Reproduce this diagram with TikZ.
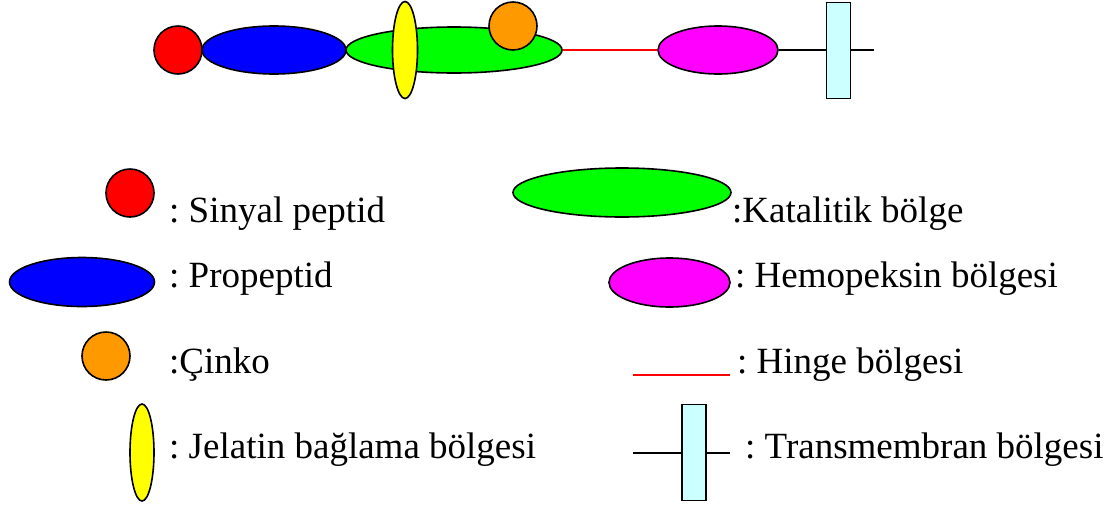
\documentclass[tikz,border=0pt]{standalone}
\usepackage{fontspec}
\setmainfont{Liberation Serif}
\usetikzlibrary{shapes.geometric}
\definecolor{cred}{HTML}{FF0000}
\definecolor{cblue}{HTML}{0000FF}
\definecolor{cgreen}{HTML}{00FF00}
\definecolor{cyel}{HTML}{FFFF00}
\definecolor{corange}{HTML}{FF9900}
\definecolor{cmag}{HTML}{FF00FF}
\definecolor{ccyan}{HTML}{CCFFFF}
\tikzset{
  blob/.style={ellipse, draw=black, line width=1.6pt, inner sep=0pt, minimum width=#1},
  tmbox/.style={rectangle, draw=black, line width=1.6pt, fill=ccyan, inner sep=0pt, minimum width=24pt, minimum height=96pt},
  hinge/.style={draw=cred, line width=1.6pt},
  tail/.style={draw=black, line width=1.6pt},
  lbl/.style={anchor=base west, inner sep=0pt, font=\fontsize{37}{42}\selectfont\frenchspacing}
}
\begin{document}
\begin{tikzpicture}[x=1pt,y=-1pt]
\useasboundingbox[fill=white] (0,0) rectangle (1113,507);
% top row
\node[blob=48pt, minimum height=48pt, fill=cred] (sp) at (178,50) {};
\node[blob=144pt, minimum height=48pt, fill=cblue] (pro) at (274,50) {};
\node[blob=216pt, minimum height=46pt, fill=cgreen] (cat) at (454,50) {};
\node[blob=25pt, minimum height=97pt, fill=cyel] (jel) at (405,50) {};
\node[blob=48pt, minimum height=48pt, fill=corange] (zn) at (513,26) {};
\node[blob=120pt, minimum height=48pt, fill=cmag] (hem) at (718,50) {};
\coordinate (tend) at (874,50);
\draw[hinge] (cat.east) -- (hem.west);
\draw[tail] (hem.east) -- (tend);
\node[tmbox] (tm) at (838.5,50.5) {};
% legend
\node[blob=48pt, minimum height=48pt, fill=cred] (lsp) at (130,193) {};
\node[lbl] (tsp) at (169,222) {: Sinyal peptid};
\node[blob=145pt, minimum height=49pt, fill=cblue] (lpro) at (82,282) {};
\node[lbl] (tpro) at (169,287) {: Propeptid};
\node[blob=48pt, minimum height=48pt, fill=corange] (lzn) at (106,356) {};
\node[lbl] (tzn) at (169,373) {:Çinko};
\node[blob=24pt, minimum height=97pt, fill=cyel] (ljel) at (142,452.5) {};
\node[lbl] (tjel) at (169,458) {: Jelatin bağlama bölgesi};
\node[blob=218pt, minimum height=49pt, fill=cgreen] (lcat) at (622,192.5) {};
\node[lbl] (tcat) at (732,222) {:Katalitik bölge};
\node[blob=121pt, minimum height=49pt, fill=cmag] (lhem) at (669.5,282.5) {};
\node[lbl] (themp) at (735,287) {: Hemopeksin bölgesi};
\coordinate (lh1) at (633,375);
\coordinate (lh2) at (730,375);
\draw[hinge] (lh1) -- (lh2);
\node[lbl] (thin) at (737,373) {: Hinge bölgesi};
\coordinate (lt1) at (633,453);
\coordinate (lt2) at (730,453);
\draw[tail] (lt1) -- (lt2);
\node[tmbox] (ltm) at (694,452.5) {};
\node[lbl] (ttm) at (745,458) {: Transmembran bölgesi};
\end{tikzpicture}
\end{document}
